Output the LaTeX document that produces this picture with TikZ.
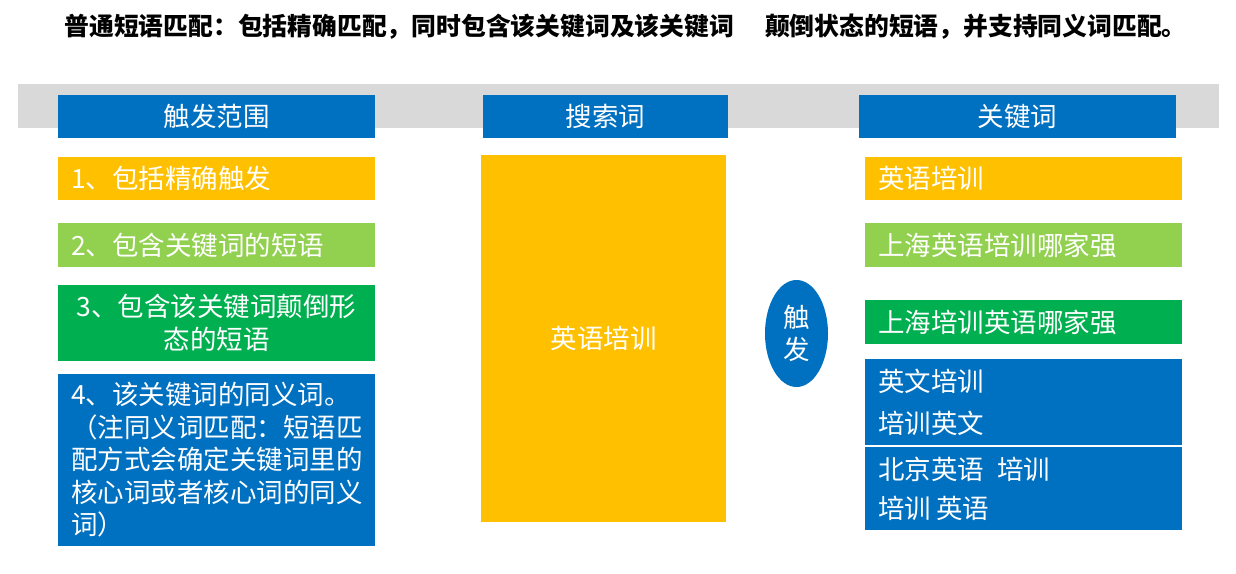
\documentclass[tikz,border=0pt]{standalone}
\usepackage{fontspec}
\newfontfamily\cjk{Noto Sans CJK SC}
\usetikzlibrary{shapes.geometric}
\definecolor{hdblue}{HTML}{0070C0}
\definecolor{gold}{HTML}{FFC000}
\definecolor{lgreen}{HTML}{92D050}
\definecolor{dgreen}{HTML}{00B050}
\definecolor{band}{HTML}{D9D9D9}

\begin{document}
\begin{tikzpicture}[x=1pt, y=-1pt,
	cell/.style={fill=#1, text=white, inner ysep=0pt, inner xsep=13pt, minimum height=43pt, text width=291pt, align=left, font=\cjk\fontsize{26.5}{32.5}\selectfont},
	head/.style={cell=hdblue, align=center}]
	\useasboundingbox (0,0) rectangle (1236,573);
	\node[anchor=west, font=\cjk\bfseries\fontsize{24.8}{28}\selectfont] (title) at (61,27) {普通短语匹配：包括精确匹配，同时包含该关键词及该关键词\hspace*{1.25em}颠倒状态的短语，并支持同义词匹配。};
	\fill[band] (18,84) rectangle (1219,128);
	% headers
	\node[head] (hdrange) at (216.5,116.5) {触发范围};
	\node[head, text width=219pt] (hdsearch) at (605.5,116.5) {搜索词};
	\node[head] (hdkey) at (1017.5,116.5) {关键词};
	% left column
	\node[cell=gold] (range1) at (216.5,178.5) {1、包括精确触发};
	\node[cell=lgreen, minimum height=44pt] (range2) at (216.5,245) {2、包含关键词的短语};
	\node[cell=dgreen, minimum height=76pt, align=center] (range3) at (216.5,323) {3、包含该关键词颠倒形\\态的短语};
	\node[cell=hdblue, minimum height=172pt] (range4) at (216.5,460) {4、该关键词的同义词。\\（注同义词匹配：短语匹\\配方式会确定关键词里的\\核心词或者核心词的同义\\词）};
	% middle
	\node[cell=gold, text width=219pt, minimum height=367pt, align=center] (search) at (603.5,338.5) {英语培训};
	\node[ellipse, fill=hdblue, text=white, inner sep=0pt, minimum width=63pt, minimum height=107pt, align=center, font=\cjk\fontsize{26.5}{32}\selectfont] (trigger) at (796.5,333.5) {触\\发};
	% right column
	\node[cell=gold] (key1) at (1023.5,178.5) {英语培训};
	\node[cell=lgreen, minimum height=44pt] (key2) at (1023.5,245) {上海英语培训哪家强};
	\node[cell=dgreen, minimum height=44pt] (key3) at (1023.5,322) {上海培训英语哪家强};
	\node[cell=hdblue, minimum height=86pt, font=\cjk\fontsize{26.5}{42}\selectfont] (key4) at (1023.5,402) {英文培训\\培训英文};
	\node[cell=hdblue, minimum height=83pt, font=\cjk\fontsize{26.5}{39}\selectfont] (key5) at (1023.5,488.5) {北京英语\hspace*{0.5em}培训\\培训\hspace*{0.2em}英语};
\end{tikzpicture}
\end{document}
